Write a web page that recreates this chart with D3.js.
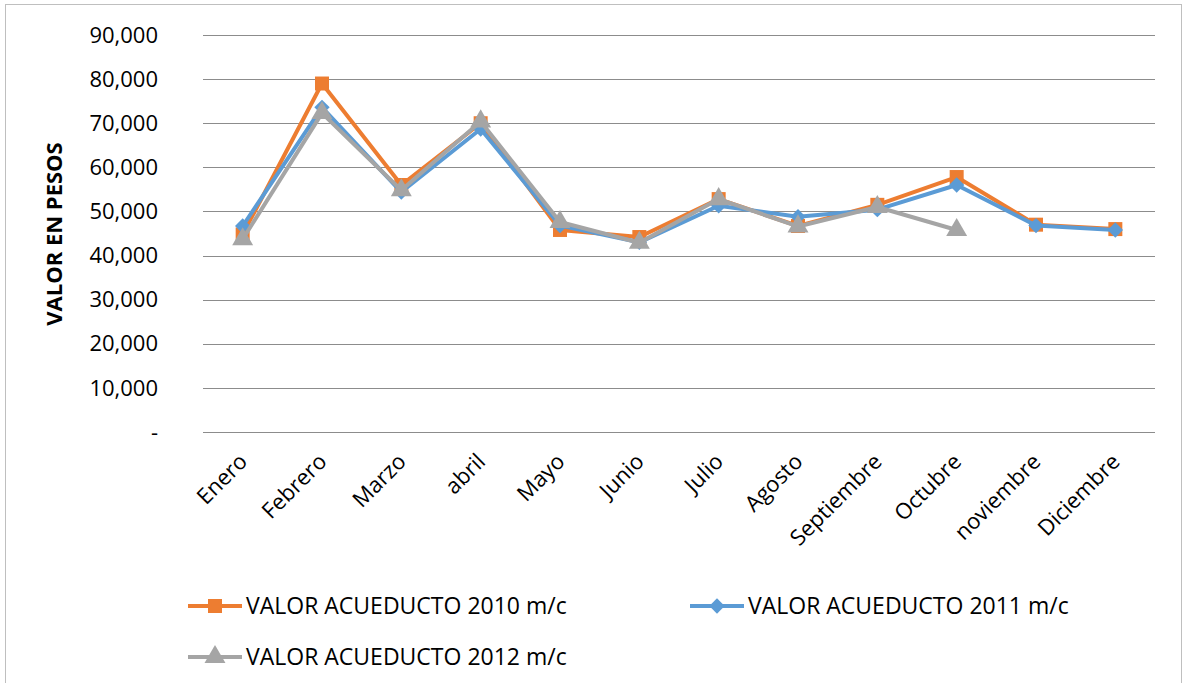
<!DOCTYPE html>
<html>
<head>
<meta charset="utf-8">
<script src="https://cdn.jsdelivr.net/npm/d3@7"></script>
<style>
  body { margin: 0; background: #fff; }
  svg { display: block; font-family: "Open Sans", "Noto Sans", sans-serif; }
</style>
</head>
<body>
<svg id="chart"></svg>
<script>
const WIDTH = 1186;
const HEIGHT = 683;
const PLOT = { left: 203, right: 1155, top: 35, bottom: 432 };

const months = ["Enero", "Febrero", "Marzo", "abril", "Mayo", "Junio", "Julio",
  "Agosto", "Septiembre", "Octubre", "noviembre", "Diciembre"];
const yTicks = [0, 10000, 20000, 30000, 40000, 50000, 60000, 70000, 80000, 90000];

const valores2010 = [44800, 79000, 56000, 70000, 45800, 44200, 52800, 46700, 51500, 57800, 47000, 46000];
const valores2011 = [46700, 73600, 54400, 68700, 46800, 43000, 51300, 48800, 50400, 56000, 46800, 45800];
const valores2012 = [43700, 72300, 54800, 70400, 47600, 42900, 52800, 46600, 51000, 45800, null, null];

const series = [
  { name: "VALOR ACUEDUCTO 2010 m/c", values: valores2010, color: "#ED7D31", marker: "square" },
  { name: "VALOR ACUEDUCTO 2011 m/c", values: valores2011, color: "#5B9BD5", marker: "diamond" },
  { name: "VALOR ACUEDUCTO 2012 m/c", values: valores2012, color: "#A5A5A5", marker: "triangle" }
];

const svg = d3.select("#chart").attr("width", WIDTH).attr("height", HEIGHT);

// outer chart border
svg.append("rect")
  .attr("x", 5.5).attr("y", 4.5)
  .attr("width", 1176).attr("height", 700)
  .attr("fill", "none").attr("stroke", "#bfbfbf");

const x = d3.scaleBand().domain(months).range([PLOT.left, PLOT.right]);
const y = d3.scaleLinear().domain([0, 90000]).range([PLOT.bottom, PLOT.top]);

// gridlines
svg.append("g")
  .selectAll("line")
  .data(yTicks)
  .join("line")
  .attr("x1", PLOT.left).attr("x2", PLOT.right)
  .attr("y1", (d) => Math.round(y(d)) + 0.5)
  .attr("y2", (d) => Math.round(y(d)) + 0.5)
  .attr("stroke", "#8c8c8c").attr("stroke-width", 1);

// y labels
const fmt = d3.format(",");
svg.append("g")
  .selectAll("text")
  .data(yTicks)
  .join("text")
  .attr("x", 158)
  .attr("y", (d) => y(d))
  .attr("dy", "0.35em")
  .attr("text-anchor", "end")
  .attr("font-size", 22)
  .attr("fill", "#000")
  .text((d) => (d === 0 ? "-" : fmt(d)));

svg.append("text")
  .attr("transform", `translate(62,234) rotate(-90)`)
  .attr("text-anchor", "middle")
  .attr("font-size", 22)
  .attr("font-weight", "bold")
  .text("VALOR EN PESOS");

// x labels
svg.append("g")
  .selectAll("text")
  .data(months)
  .join("text")
  .attr("transform", (d) => `translate(${x(d) + x.bandwidth() / 2 + 6},${463}) rotate(-45)`)
  .attr("text-anchor", "end")
  .attr("font-size", 22)
  .text((d) => d);

// markers
const symbolFor = {
  square: d3.symbol().type(d3.symbolSquare).size(196),
  diamond: d3.symbol().type(d3.symbolDiamond2).size(150),
  triangle: d3.symbol().type(d3.symbolTriangle).size(190)
};

const line = d3.line()
  .defined((d) => d != null)
  .x((d, i) => x(months[i]) + x.bandwidth() / 2)
  .y((d) => y(d));

series.forEach((s) => {
  const g = svg.append("g");
  g.append("path")
    .attr("d", line(s.values))
    .attr("fill", "none")
    .attr("stroke", s.color)
    .attr("stroke-width", 4)
    .attr("stroke-linejoin", "round");
  g.selectAll("path.mk")
    .data(s.values.map((v, i) => ({ v, i })).filter((d) => d.v != null))
    .join("path")
    .attr("class", "mk")
    .attr("d", symbolFor[s.marker]())
    .attr("transform", (d) => `translate(${x(months[d.i]) + x.bandwidth() / 2},${y(d.v)})`)
    .attr("fill", s.color);
});

// legend
const legendPos = [
  { x: 188, y: 606 },
  { x: 690, y: 606 },
  { x: 188, y: 657 }
];
series.forEach((s, i) => {
  const p = legendPos[i];
  const g = svg.append("g").attr("transform", `translate(${p.x},${p.y})`);
  g.append("line").attr("x1", 0).attr("x2", 54).attr("y1", 0).attr("y2", 0)
    .attr("stroke", s.color).attr("stroke-width", 4);
  g.append("path").attr("d", symbolFor[s.marker]())
    .attr("transform", "translate(27,0)").attr("fill", s.color);
  g.append("text").attr("x", 58).attr("dy", "0.35em")
    .attr("font-size", 23).text(s.name);
});
</script>
</body>
</html>
